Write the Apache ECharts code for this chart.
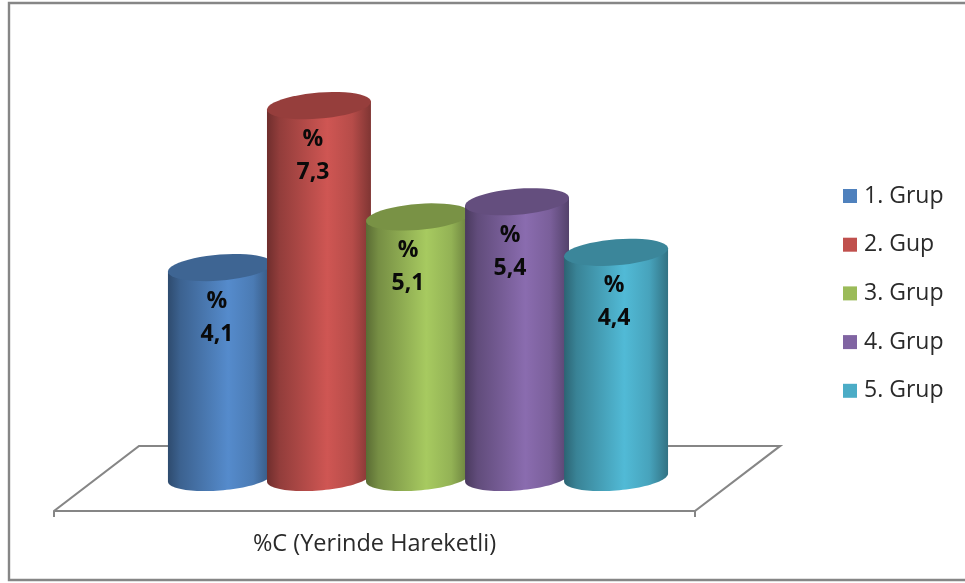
<!DOCTYPE html>
<html>
<head>
<meta charset="utf-8">
<script src="https://cdn.jsdelivr.net/npm/echarts@6/dist/echarts.min.js"></script>
<style>html,body{margin:0;padding:0;background:#fff}#chart{width:965px;height:583px}</style>
</head>
<body>
<div id="chart"></div>
<script>
// Measure shown on the category axis
const categories = ['%C (Yerinde Hareketli)'];
// One cylinder per group
const groupNames = ['1. Grup', '2. Gup', '3. Grup', '4. Grup', '5. Grup'];
const groupValues = [4.1, 7.3, 5.1, 5.4, 4.4];
const groupColors = ['#4f81bd', '#c0504d', '#9bbb59', '#8064a2', '#4bacc6'];
// Horizontal nudge of each value label relative to its cylinder axis
const labelNudge = [-3, -6, -10, -7, -2];

const FONT = '"Open Sans", sans-serif';
const GRAY = '#868686';
// Oblique projection of the chart floor
const DEPTH_X = 42.5, DEPTH_Y = -32.5;
const TOP_LIFT = -3.5, SHIFT_X = 1;
const PITCH = 0.1545, WIDTH = 0.1622;
const CAP_RY = 13, CAP_TILT = 4;

function shade(hex, k) {
  const n = parseInt(hex.slice(1), 16);
  const c = [n >> 16, (n >> 8) & 255, n & 255].map(v => Math.min(255, Math.round(v * k)));
  return 'rgb(' + c.join(',') + ')';
}

// Tilted ellipse outline between two parametric angles
function arcPoints(cx, cy, rx, from, to) {
  const pts = [];
  for (let s = 0; s <= 48; s++) {
    const t = from + (to - from) * s / 48;
    pts.push([cx + rx * Math.cos(t), cy + CAP_RY * Math.sin(t) - CAP_TILT * Math.cos(t)]);
  }
  return pts;
}

function cylinder(i) {
  return function (params, api) {
    const value = api.value(1);
    const top = api.coord([0, value]);
    const base = api.coord([0, 0]);
    const band = api.size([1, 0])[0];
    const cx = top[0] + (i - 2) * band * PITCH + DEPTH_X + SHIFT_X;
    const rx = band * WIDTH / 2;
    const yTop = top[1] + DEPTH_Y + TOP_LIFT;
    const yBase = base[1] + DEPTH_Y - 1;
    const col = groupColors[i];
    const body = [[cx - rx, yTop + CAP_TILT]]
      .concat(arcPoints(cx, yBase, rx, Math.PI, 0))
      .concat([[cx + rx, yTop - CAP_TILT]]);
    return {
      type: 'group',
      children: [
        {
          type: 'polygon',
          shape: { points: body },
          style: {
            fill: new echarts.graphic.LinearGradient(0, 0, 1, 0, [
              { offset: 0, color: shade(col, 0.58) },
              { offset: 0.12, color: shade(col, 0.76) },
              { offset: 0.58, color: shade(col, 1.08) },
              { offset: 0.82, color: shade(col, 0.95) },
              { offset: 1, color: shade(col, 0.66) }
            ])
          }
        },
        {
          type: 'polygon',
          shape: { points: arcPoints(cx, yTop, rx, 0, Math.PI * 2) },
          style: { fill: shade(col, 0.78) }
        },
        {
          type: 'text',
          style: {
            x: cx + labelNudge[i],
            y: yTop + 50,
            text: '%\n' + String(value).replace('.', ','),
            fill: '#0a0a0a',
            font: 'bold 23px ' + FONT,
            lineHeight: 33,
            align: 'center',
            verticalAlign: 'middle'
          }
        }
      ]
    };
  };
}

const chart = echarts.init(document.getElementById('chart'), null, { renderer: 'canvas' });

const cylinderSeries = groupNames.map((name, i) => ({
  name,
  type: 'custom',
  itemStyle: { color: groupColors[i] },
  encode: { x: 0, y: 1 },
  data: [[0, groupValues[i]]],
  renderItem: cylinder(i),
  clip: false,
  silent: true
}));

chart.setOption({
  animation: false,
  backgroundColor: '#ffffff',
  graphic: [{
    type: 'polyline',
    shape: { points: [[965, 3], [9, 3], [9, 580], [965, 580]] },
    style: { stroke: GRAY, lineWidth: 2.4, fill: null },
    silent: true
  }],
  grid: { left: 54, right: 270, top: 106.2, bottom: 72 },
  xAxis: {
    type: 'category',
    data: categories,
    axisLine: { lineStyle: { color: GRAY, width: 2 } },
    axisTick: { show: true, length: 6, lineStyle: { color: GRAY, width: 2 } },
    axisLabel: { color: '#2a2a2a', fontFamily: FONT, fontSize: 23.5, margin: 21 }
  },
  yAxis: { type: 'value', min: 0, max: 8, show: false },
  legend: {
    data: groupNames,
    orient: 'vertical',
    left: 843,
    top: 184,
    padding: 0,
    icon: 'rect',
    itemWidth: 14,
    itemHeight: 14,
    itemGap: 24.7,
    selectedMode: false,
    textStyle: { color: '#2a2a2a', fontFamily: FONT, fontSize: 23, lineHeight: 24, padding: [0, 0, 0, 2] }
  },
  series: [{
    // Floor of the plot, drawn behind the cylinders
    type: 'custom',
    name: 'floor',
    silent: true,
    data: [[0, 0]],
    encode: { x: 0, y: 1 },
    clip: false,
    renderItem: function (params, api) {
      const r = params.coordSys;
      const y = r.y + r.height;
      return {
        type: 'polyline',
        shape: { points: [[r.x, y], [r.x + DEPTH_X * 2, y + DEPTH_Y * 2], [r.x + r.width + DEPTH_X * 2, y + DEPTH_Y * 2], [r.x + r.width, y]] },
        style: { stroke: GRAY, lineWidth: 2.2, fill: null }
      };
    }
  }].concat(cylinderSeries)
});
</script>
</body>
</html>
